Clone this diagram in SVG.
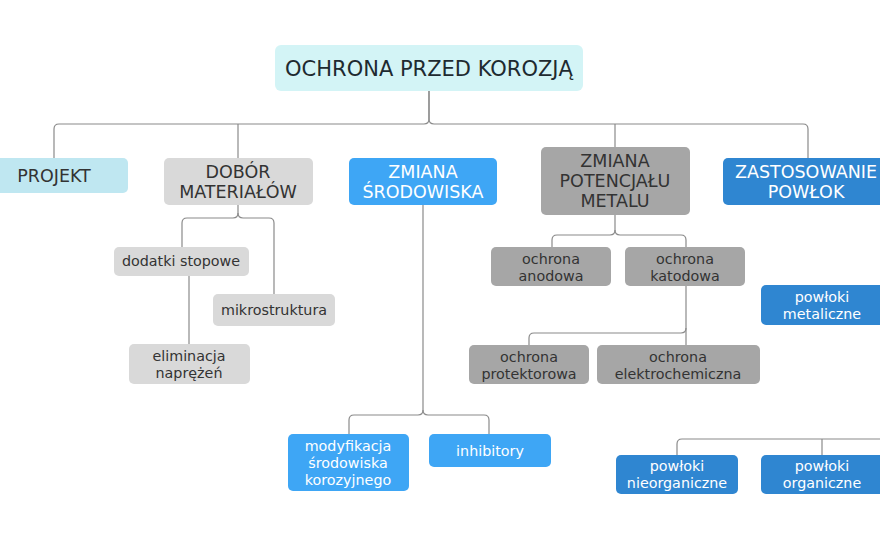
<svg xmlns="http://www.w3.org/2000/svg" width="880" height="540" viewBox="0 0 880 540">
<style>
text{font-family:"DejaVu Sans","Liberation Sans",sans-serif;text-anchor:middle}
.c path{fill:none;stroke:#8a8a8a;stroke-width:1.2}
.t0{font-size:21px;fill:#1e2a30}
.t1{font-size:17.5px}
.t2{font-size:14.3px}
.dk{fill:#333}
.wh{fill:#ffffff}
.root{fill:#d3f4f6}
.proj{fill:#bfe7f1}
.gl{fill:#d9d9d9}
.gm{fill:#a6a6a6}
.bl{fill:#3ea6f5}
.bd{fill:#2f86d1}
</style>
<rect width="880" height="540" fill="#ffffff"/>
<g class="c" id="connectors">
<path d="M429 91 V119 Q429 124 424 124 H59 Q54 124 54 129 V158"/>
<path d="M429 91 V119 Q429 124 434 124 H803 Q808 124 808 129 V158"/>
<path d="M238 124 V158"/>
<path d="M615 124 V147"/>
<path d="M238 205 V213 Q238 218 233 218 H187 Q182 218 182 223 V247"/>
<path d="M238 213 Q238 218 243 218 H269 Q274 218 274 223 V294"/>
<path d="M189 276 V344"/>
<path d="M615 215 V230 Q615 235 610 235 H557 Q552 235 552 240 V247"/>
<path d="M615 230 Q615 235 620 235 H681 Q686 235 686 240 V247"/>
<path d="M686 286 V345"/>
<path d="M686 328 Q686 333 681 333 H534 Q529 333 529 338 V345"/>
<path d="M423 205 V410 Q423 415 418 415 H354 Q349 415 349 420 V434"/>
<path d="M423 410 Q423 415 428 415 H484 Q489 415 489 420 V434"/>
<path d="M677 455 V444 Q677 439 682 439 H880"/>
<path d="M822 439 V455"/>
</g>
<g id="root"><rect class="root" x="275" y="45" width="308" height="46" rx="6"/><text class="t0" x="429" y="76">OCHRONA PRZED KOROZJĄ</text></g>
<g id="projekt"><rect class="proj" x="-20" y="158" width="148" height="35" rx="5"/><text class="t1 dk" x="54" y="182">PROJEKT</text></g>
<g id="dobor"><rect class="gl" x="164" y="158" width="149" height="47" rx="5"/><text class="t1 dk" x="238" y="178">DOBÓR</text><text class="t1 dk" x="238" y="198">MATERIAŁÓW</text></g>
<g id="srodowisko"><rect class="bl" x="349" y="158" width="148" height="47" rx="5"/><text class="t1 wh" x="423" y="178">ZMIANA</text><text class="t1 wh" x="423" y="198">ŚRODOWISKA</text></g>
<g id="potencjal"><rect class="gm" x="541" y="147" width="149" height="68" rx="5"/><text class="t1 dk" x="615" y="167">ZMIANA</text><text class="t1 dk" x="615" y="187">POTENCJAŁU</text><text class="t1 dk" x="615" y="207">METALU</text></g>
<g id="powloki"><rect class="bd" x="723" y="158" width="170" height="47" rx="5"/><text class="t1 wh" x="806" y="178">ZASTOSOWANIE</text><text class="t1 wh" x="806" y="198">POWŁOK</text></g>
<g id="dodatki"><rect class="gl" x="114" y="247" width="135" height="29" rx="5"/><text class="t2 dk" x="181" y="266">dodatki stopowe</text></g>
<g id="mikro"><rect class="gl" x="213" y="294" width="122" height="32" rx="5"/><text class="t2 dk" x="274" y="315">mikrostruktura</text></g>
<g id="eliminacja"><rect class="gl" x="129" y="344" width="121" height="40" rx="5"/><text class="t2 dk" x="189" y="361">eliminacja</text><text class="t2 dk" x="189" y="378">naprężeń</text></g>
<g id="anodowa"><rect class="gm" x="491" y="247" width="120" height="39" rx="5"/><text class="t2 dk" x="551" y="264">ochrona</text><text class="t2 dk" x="551" y="281">anodowa</text></g>
<g id="katodowa"><rect class="gm" x="625" y="247" width="120" height="39" rx="5"/><text class="t2 dk" x="685" y="264">ochrona</text><text class="t2 dk" x="685" y="281">katodowa</text></g>
<g id="protektorowa"><rect class="gm" x="469" y="345" width="120" height="39" rx="5"/><text class="t2 dk" x="529" y="362">ochrona</text><text class="t2 dk" x="529" y="379">protektorowa</text></g>
<g id="elektrochemiczna"><rect class="gm" x="597" y="345" width="163" height="39" rx="5"/><text class="t2 dk" x="678" y="362">ochrona</text><text class="t2 dk" x="678" y="379">elektrochemiczna</text></g>
<g id="metaliczne"><rect class="bd" x="761" y="285" width="125" height="40" rx="5"/><text class="t2 wh" x="822" y="302">powłoki</text><text class="t2 wh" x="822" y="319">metaliczne</text></g>
<g id="modyfikacja"><rect class="bl" x="288" y="434" width="121" height="57" rx="5"/><text class="t2 wh" x="348" y="451">modyfikacja</text><text class="t2 wh" x="348" y="468">środowiska</text><text class="t2 wh" x="348" y="485">korozyjnego</text></g>
<g id="inhibitory"><rect class="bl" x="429" y="434" width="122" height="33" rx="5"/><text class="t2 wh" x="490" y="456">inhibitory</text></g>
<g id="nieorganiczne"><rect class="bd" x="616" y="455" width="122" height="39" rx="5"/><text class="t2 wh" x="677" y="471">powłoki</text><text class="t2 wh" x="677" y="488">nieorganiczne</text></g>
<g id="organiczne"><rect class="bd" x="761" y="455" width="125" height="39" rx="5"/><text class="t2 wh" x="822" y="471">powłoki</text><text class="t2 wh" x="822" y="488">organiczne</text></g>
</svg>
